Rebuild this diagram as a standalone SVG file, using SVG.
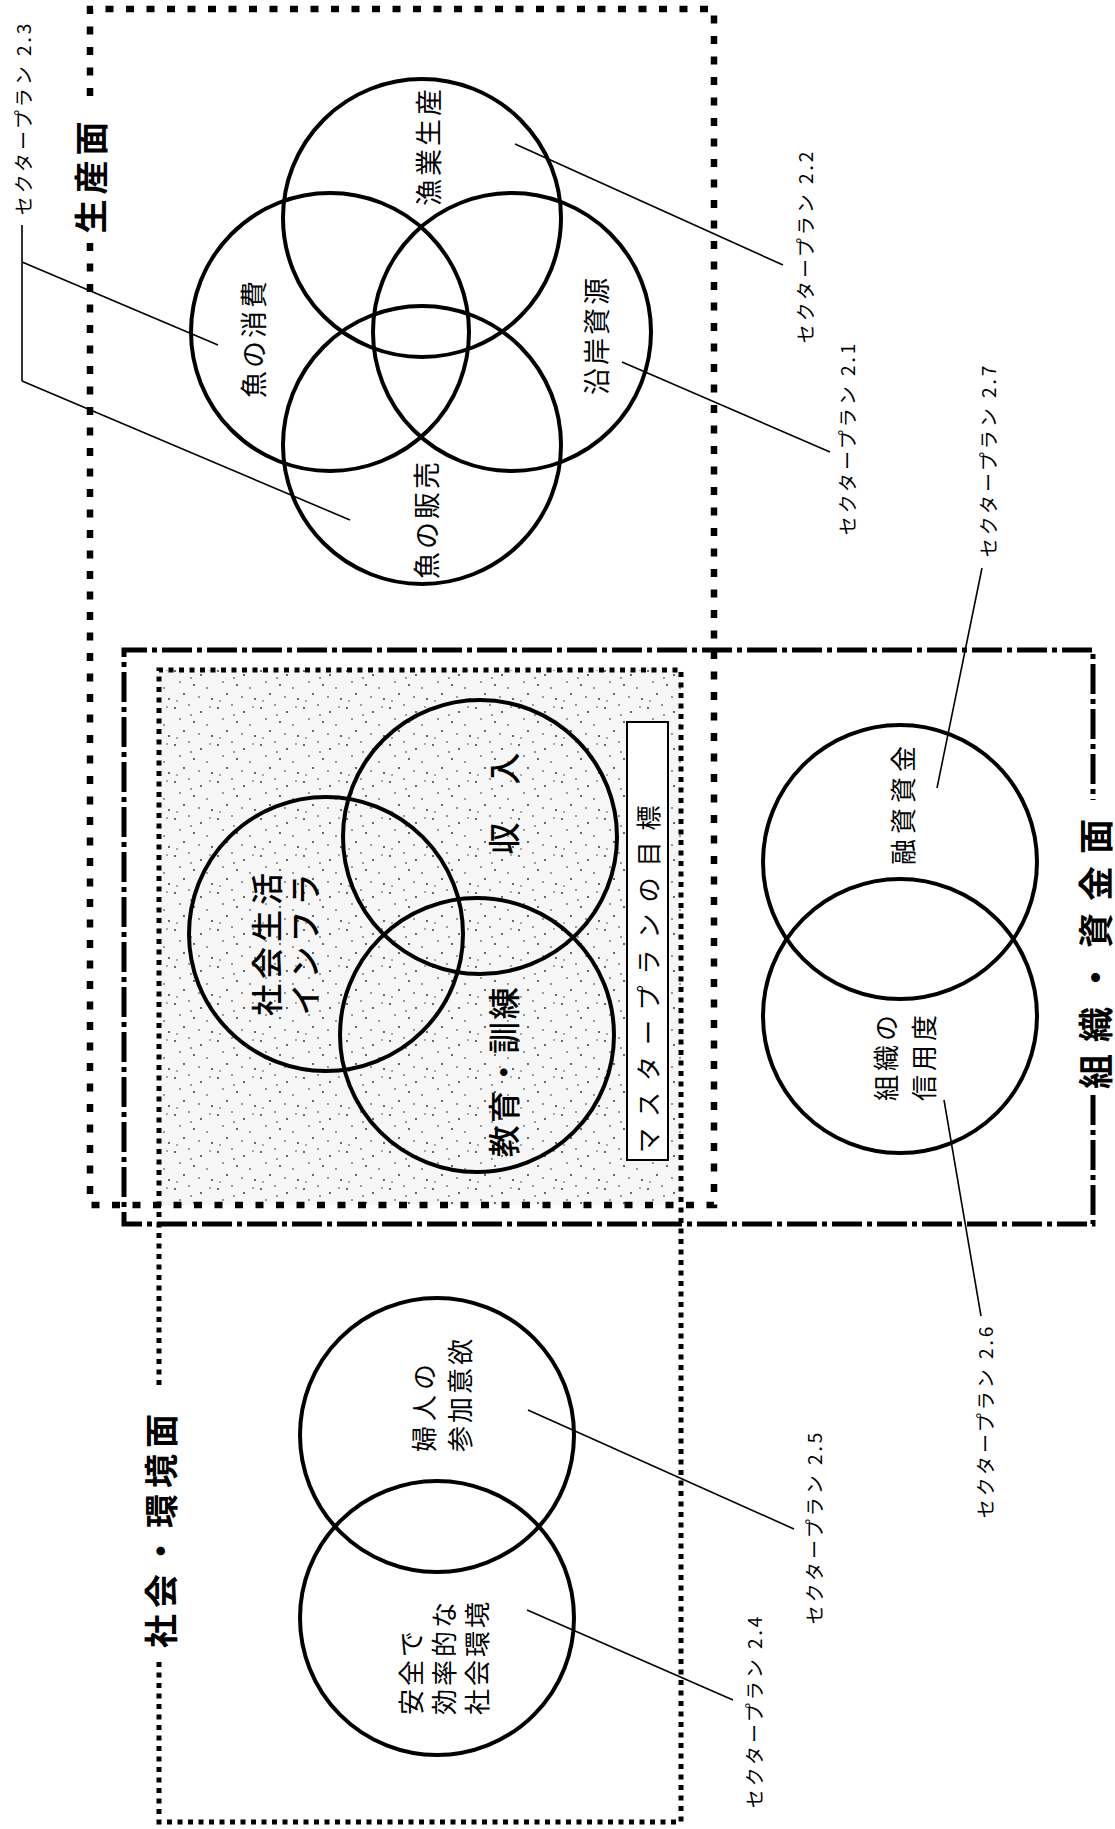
<svg xmlns="http://www.w3.org/2000/svg" width="1115" height="1829" viewBox="0 0 1115 1829">
<style>
text { font-family: "Noto Sans CJK JP", "Noto Sans", sans-serif; fill:#000; }
.sec { font-size:19px; letter-spacing:3px; }
.c27 { font-size:27px; letter-spacing:3px; }
.c26 { font-size:26px; letter-spacing:3px; }
.m32 { font-size:32px; letter-spacing:3px; font-weight:500; }
.box { font-size:34px; font-weight:bold; letter-spacing:5px; }
.circ { fill:none; stroke:#000; stroke-width:4; }
.lead { fill:none; stroke:#000; stroke-width:1.6; }
.prod { fill:none; stroke:#000; stroke-width:6.5; stroke-dasharray:8 12.5; }
.org { fill:none; stroke:#000; stroke-width:5; stroke-dasharray:30 5 5 5; }
.soc { fill:none; stroke:#000; stroke-width:5; stroke-dasharray:5 5.5; }
</style>
<defs>
<pattern id="stip" width="43" height="37" patternUnits="userSpaceOnUse">
<rect width="43" height="37" fill="#f6f6f6"/>
<g fill="#222">
<circle cx="3" cy="5" r="0.9"/><circle cx="17" cy="2" r="0.8"/><circle cx="29" cy="9" r="0.9"/>
<circle cx="38" cy="4" r="0.7"/><circle cx="8" cy="16" r="0.8"/><circle cx="22" cy="19" r="0.9"/>
<circle cx="35" cy="22" r="0.8"/><circle cx="12" cy="28" r="0.9"/><circle cx="27" cy="31" r="0.8"/>
<circle cx="40" cy="33" r="0.9"/><circle cx="5" cy="35" r="0.7"/><circle cx="19" cy="12" r="0.8"/>
</g>
</pattern>
</defs>
<rect width="1115" height="1829" fill="#fff"/>

<g id="master-area">
<rect x="159" y="670" width="522" height="535" fill="url(#stip)"/>
</g>

<g id="box-production">
<path class="prod" d="M90,243 V1205 H714 V9 H90 V103"/>
<text class="box" transform="translate(89,175) rotate(-90)" text-anchor="middle" dominant-baseline="central">生産面</text>
</g>
<g id="box-org">
<path class="org" d="M1093,1095 V1224 H124 V650 H1093 V800"/>
<text class="box" style="font-size:35px;letter-spacing:12px" transform="translate(1093,948) rotate(-90)" text-anchor="middle" dominant-baseline="central">組織・資金面</text>
</g>
<g id="box-social">
<path class="soc" d="M159,1662 V1822 H681 V670 H159 V1388"/>
<text class="box" style="letter-spacing:6px" transform="translate(159,1528) rotate(-90)" text-anchor="middle" dominant-baseline="central">社会・環境面</text>
</g>

<g id="node-gyogyo">
<circle class="circ" cx="422" cy="218" r="139"/>
<text class="c27" transform="translate(427,146) rotate(-90)" text-anchor="middle" dominant-baseline="central">漁業生産</text>
</g>
<g id="node-shohi">
<circle class="circ" cx="330" cy="332" r="139"/>
<text class="c27" transform="translate(252,338) rotate(-90)" text-anchor="middle" dominant-baseline="central">魚の消費</text>
</g>
<g id="node-engan">
<circle class="circ" cx="512" cy="332" r="139"/>
<text class="c27" transform="translate(595,335) rotate(-90)" text-anchor="middle" dominant-baseline="central">沿岸資源</text>
</g>
<g id="node-hanbai">
<circle class="circ" cx="422" cy="445" r="139"/>
<text class="c27" transform="translate(425,519) rotate(-90)" text-anchor="middle" dominant-baseline="central">魚の販売</text>
</g>

<g id="node-infra">
<circle class="circ" cx="326" cy="934" r="137"/>
<text class="m32" style="letter-spacing:5px" transform="translate(265,942) rotate(-90)" text-anchor="middle" dominant-baseline="central">社会生活</text>
<text class="m32" style="letter-spacing:5px" transform="translate(303,942) rotate(-90)" text-anchor="middle" dominant-baseline="central">インフラ</text>
</g>
<g id="node-shunyu">
<circle class="circ" cx="480" cy="837" r="137"/>
<text class="m32" transform="translate(502,802) rotate(-90)" text-anchor="middle" dominant-baseline="central">収　入</text>
</g>
<g id="node-kyoiku">
<circle class="circ" cx="477" cy="1035" r="137"/>
<text class="m32" style="letter-spacing:2.5px" transform="translate(502,1071) rotate(-90)" text-anchor="middle" dominant-baseline="central">教育・訓練</text>
</g>
<g id="node-goal">
<rect x="627" y="722" width="41" height="438" fill="#fff" stroke="#000" stroke-width="2"/>
<text style="font-size:25px;letter-spacing:11px" transform="translate(647,1153) rotate(-90)" text-anchor="start" dominant-baseline="central">マスタープランの目標</text>
</g>

<g id="node-yushi">
<circle class="circ" cx="900" cy="862" r="137"/>
<text class="c26" style="letter-spacing:5px" transform="translate(901,803) rotate(-90)" text-anchor="middle" dominant-baseline="central">融資資金</text>
</g>
<g id="node-shinyo">
<circle class="circ" cx="900" cy="1016" r="137"/>
<text class="c26" style="letter-spacing:4px" transform="translate(884,1056) rotate(-90)" text-anchor="middle" dominant-baseline="central">組織の</text>
<text class="c26" style="letter-spacing:4px" transform="translate(922,1056) rotate(-90)" text-anchor="middle" dominant-baseline="central">信用度</text>
</g>

<g id="node-fujin">
<circle class="circ" cx="437" cy="1435" r="137"/>
<text class="c26" style="letter-spacing:5px" transform="translate(422,1452) rotate(-90)" text-anchor="start" dominant-baseline="central">婦人の</text>
<text class="c26" transform="translate(458,1452) rotate(-90)" text-anchor="start" dominant-baseline="central">参加意欲</text>
</g>
<g id="node-anzen">
<circle class="circ" cx="437" cy="1618" r="137"/>
<text class="c26" transform="translate(409,1715) rotate(-90)" text-anchor="start" dominant-baseline="central">安全で</text>
<text class="c26" transform="translate(442,1715) rotate(-90)" text-anchor="start" dominant-baseline="central">効率的な</text>
<text class="c26" transform="translate(475,1715) rotate(-90)" text-anchor="start" dominant-baseline="central">社会環境</text>
</g>

<g id="connectors">
<path class="lead" d="M22,225 V381 M22,262 L218,345 M22,381 L350,520"/>
<line class="lead" x1="515" y1="144" x2="783" y2="265"/>
<line class="lead" x1="622" y1="362" x2="830" y2="452"/>
<line class="lead" x1="982" y1="568" x2="937" y2="788"/>
<line class="lead" x1="944" y1="1100" x2="981" y2="1316"/>
<line class="lead" x1="528" y1="1410" x2="794" y2="1529"/>
<line class="lead" x1="527" y1="1610" x2="733" y2="1700"/>
</g>

<g id="sector-labels">
<text class="sec" transform="translate(22,118) rotate(-90)" text-anchor="middle" dominant-baseline="central">セクタープラン 2.3</text>
<text class="sec" transform="translate(804,246) rotate(-90)" text-anchor="middle" dominant-baseline="central">セクタープラン 2.2</text>
<text class="sec" transform="translate(846,438) rotate(-90)" text-anchor="middle" dominant-baseline="central">セクタープラン 2.1</text>
<text class="sec" transform="translate(987,460) rotate(-90)" text-anchor="middle" dominant-baseline="central">セクタープラン 2.7</text>
<text class="sec" transform="translate(984,1421) rotate(-90)" text-anchor="middle" dominant-baseline="central">セクタープラン 2.6</text>
<text class="sec" transform="translate(813,1527) rotate(-90)" text-anchor="middle" dominant-baseline="central">セクタープラン 2.5</text>
<text class="sec" transform="translate(753,1711) rotate(-90)" text-anchor="middle" dominant-baseline="central">セクタープラン 2.4</text>
</g>
</svg>
